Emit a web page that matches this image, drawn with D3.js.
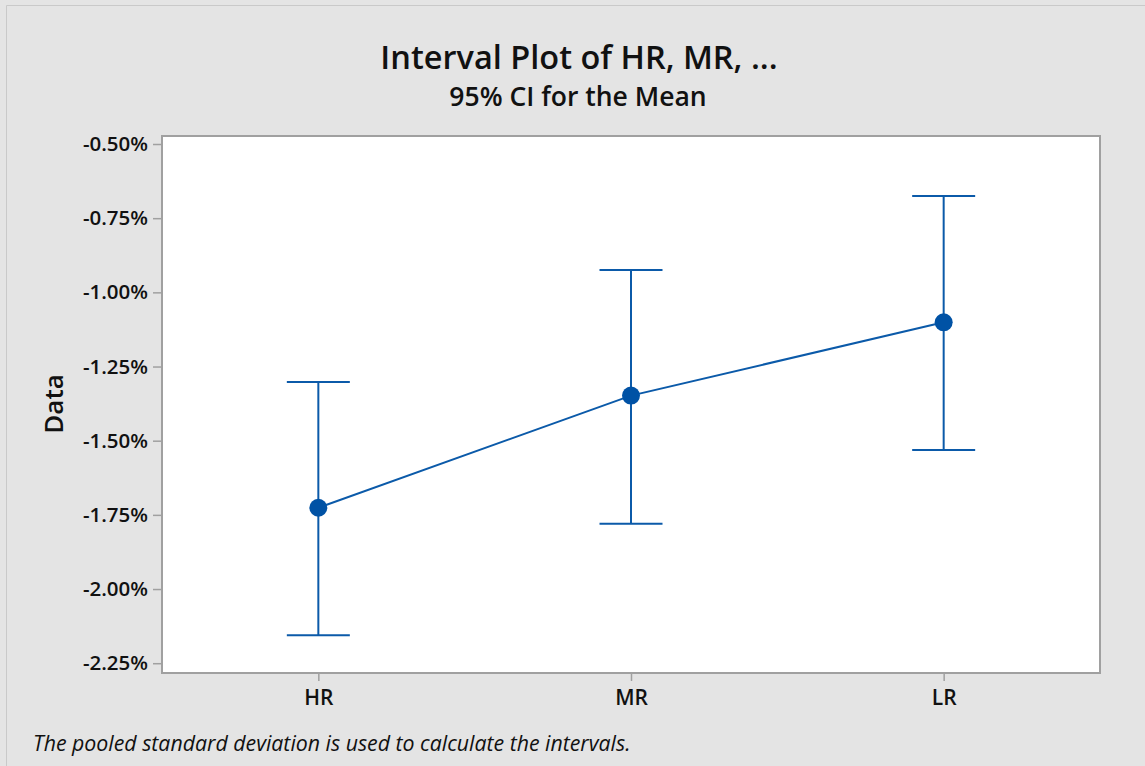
<!DOCTYPE html>
<html>
<head>
<meta charset="utf-8">
<script src="https://cdn.jsdelivr.net/npm/d3@7"></script>
<style>
html,body{margin:0;padding:0;background:#e4e4e4;}
svg{display:block;}
</style>
</head>
<body>
<svg id="chart" width="1145" height="766"></svg>
<script>
// Data (percent values)
const categories = ["HR", "MR", "LR"];
const means = [-1.726, -1.348, -1.101];
const upperCI = [-1.302, -0.925, -0.675];
const lowerCI = [-2.156, -1.780, -1.531];
const yTickValues = [-0.50, -0.75, -1.00, -1.25, -1.50, -1.75, -2.00, -2.25];
const yDomain = [-2.283, -0.473];

const W = 1145, H = 766;
const margin = {left: 162, right: 45, top: 136, bottom: 93};
const svg = d3.select("#chart");
const font = "'Open Sans', 'Noto Sans', sans-serif";
const lineColor = "#0b5aa9";
const dotColor = "#0052a5";
const axisColor = "#a0a0a0";

// background and outer frame
svg.append("rect").attr("x", 0).attr("y", 0).attr("width", W).attr("height", H).attr("fill", "#e4e4e4");
svg.append("path").attr("d", `M6.5,${H} L6.5,5.5 L${W},5.5`).attr("fill", "none").attr("stroke", "#c9c9c9").attr("stroke-width", 1);

const x = d3.scalePoint().domain(categories).range([margin.left, W - margin.right]).padding(0.5);
const y = d3.scaleLinear().domain(yDomain).range([H - margin.bottom, margin.top]);

// plot area
svg.append("rect")
  .attr("x", margin.left).attr("y", margin.top)
  .attr("width", W - margin.right - margin.left)
  .attr("height", H - margin.bottom - margin.top)
  .attr("fill", "#ffffff").attr("stroke", axisColor).attr("stroke-width", 2);

// y axis
const fmt = d => (d < 0 ? "-" : "") + Math.abs(d).toFixed(2) + "%";
const yAxis = svg.append("g").attr("transform", `translate(${margin.left - 1},0)`)
  .call(d3.axisLeft(y).tickValues(yTickValues).tickSize(8).tickPadding(5).tickFormat(fmt));
yAxis.select(".domain").remove();
yAxis.selectAll(".tick line").attr("stroke", axisColor).attr("stroke-width", 1.5);
yAxis.selectAll(".tick text").attr("fill", "#111").style("font-family", font)
  .style("font-size", "20.5px").style("font-weight", 600);

// x axis
const xAxis = svg.append("g").attr("transform", `translate(0,${H - margin.bottom + 1})`)
  .call(d3.axisBottom(x).tickSize(7).tickPadding(9));
xAxis.select(".domain").remove();
xAxis.selectAll(".tick line").attr("stroke", axisColor).attr("stroke-width", 1.5);
xAxis.selectAll(".tick text").attr("fill", "#111").style("font-family", font)
  .style("font-size", "21px").style("font-weight", 600);

// connect line
const pts = categories.map((c, i) => [x(c), y(means[i])]);
svg.append("path").attr("d", d3.line()(pts)).attr("fill", "none")
  .attr("stroke", lineColor).attr("stroke-width", 2);

// error bars
const capHalf = 31.5;
const eb = svg.append("g").attr("stroke", lineColor).attr("stroke-width", 2);
categories.forEach((c, i) => {
  const cx = x(c);
  eb.append("line").attr("x1", cx).attr("x2", cx).attr("y1", y(upperCI[i])).attr("y2", y(lowerCI[i]));
  eb.append("line").attr("x1", cx - capHalf).attr("x2", cx + capHalf).attr("y1", y(upperCI[i])).attr("y2", y(upperCI[i]));
  eb.append("line").attr("x1", cx - capHalf).attr("x2", cx + capHalf).attr("y1", y(lowerCI[i])).attr("y2", y(lowerCI[i]));
});

// mean dots
svg.append("g").selectAll("circle").data(categories).join("circle")
  .attr("cx", d => x(d)).attr("cy", (d, i) => y(means[i])).attr("r", 9)
  .attr("fill", dotColor);

// titles
svg.append("text").attr("x", 579).attr("y", 69).attr("text-anchor", "middle")
  .style("font-family", font).style("font-size", "32.5px").style("font-weight", 600).attr("fill", "#111")
  .text("Interval Plot of HR, MR, ...");
svg.append("text").attr("x", 578).attr("y", 106).attr("text-anchor", "middle")
  .style("font-family", font).style("font-size", "26.5px").style("font-weight", 600).attr("fill", "#111")
  .text("95% CI for the Mean");

// y label
svg.append("text").attr("transform", "translate(63,404) rotate(-90)").attr("text-anchor", "middle")
  .style("font-family", font).style("font-size", "26px").style("font-weight", 600).attr("fill", "#111")
  .text("Data");

// footnote
svg.append("text").attr("x", 33).attr("y", 751)
  .style("font-family", font).style("font-size", "21.3px").style("font-style", "italic").attr("fill", "#111")
  .text("The pooled standard deviation is used to calculate the intervals.");
</script>
</body>
</html>
